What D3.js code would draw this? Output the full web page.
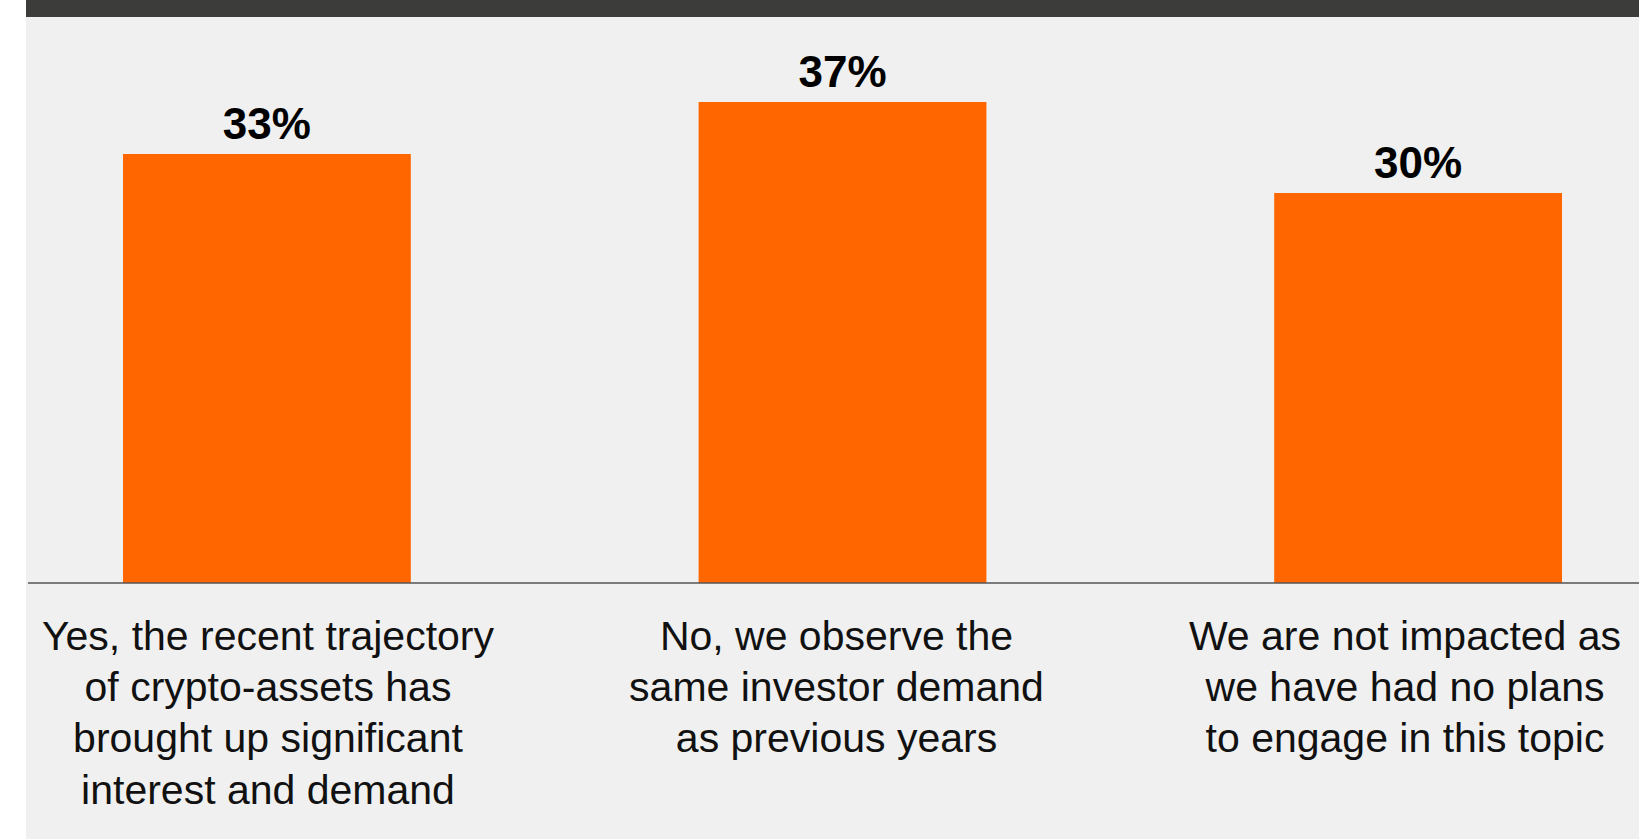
<!DOCTYPE html>
<html>
<head>
<meta charset="utf-8">
<script src="https://cdn.jsdelivr.net/npm/d3@7"></script>
<style>
  html, body { margin: 0; padding: 0; background: #ffffff; }
  svg { display: block; }
</style>
</head>
<body>
<svg id="chart" width="1639" height="839"></svg>
<script>
// Survey responses
const categories = [
  "Yes, the recent trajectory of crypto-assets has brought up significant interest and demand",
  "No, we observe the same investor demand as previous years",
  "We are not impacted as we have had no plans to engage in this topic"
];
const categoryLines = [
  ["Yes, the recent trajectory", "of crypto-assets has", "brought up significant", "interest and demand"],
  ["No, we observe the", "same investor demand", "as previous years"],
  ["We are not impacted as", "we have had no plans", "to engage in this topic"]
];
const values = [33, 37, 30];
const valueLabels = ["33%", "37%", "30%"];

const W = 1639, H = 839;
const svg = d3.select("#chart");

// panel background and header strip
svg.append("rect").attr("x", 26).attr("y", 0).attr("width", W - 26).attr("height", H).attr("fill", "#f0f0f0");
svg.append("rect").attr("x", 26).attr("y", 0).attr("width", W - 26).attr("height", 17).attr("fill", "#3c3c3a");

const baseY = 583;
const x = d3.scaleBand().domain(categories).range([123, 1562]).paddingInner(0.5).paddingOuter(0);
const y = d3.scaleLinear().domain([0, 40]).range([baseY, baseY - 520]);
const xLabel = d3.scalePoint().domain(categories).range([268, 1405]);

const data = categories.map((c, i) => ({ c, v: values[i], label: valueLabels[i], lines: categoryLines[i] }));

svg.append("g").selectAll("rect").data(data).join("rect")
  .attr("x", d => x(d.c))
  .attr("y", d => y(d.v))
  .attr("width", x.bandwidth())
  .attr("height", d => y(0) - y(d.v))
  .attr("fill", "#ff6600");

// baseline
svg.append("line")
  .attr("x1", 28).attr("x2", W)
  .attr("y1", y(0)).attr("y2", y(0))
  .attr("stroke", "#555").attr("stroke-width", 1.5);

// value labels
svg.append("g").selectAll("text").data(data).join("text")
  .attr("x", d => x(d.c) + x.bandwidth() / 2)
  .attr("y", d => y(d.v) - 15)
  .attr("text-anchor", "middle")
  .attr("font-family", "'Liberation Sans', Arial, Helvetica, sans-serif")
  .attr("font-weight", "bold")
  .attr("font-size", 44)
  .attr("fill", "#000")
  .text(d => d.label);

// category labels
const cat = svg.append("g").selectAll("text").data(data).join("text")
  .attr("x", d => xLabel(d.c))
  .attr("y", 650)
  .attr("text-anchor", "middle")
  .attr("font-family", "'Liberation Sans', Arial, Helvetica, sans-serif")
  .attr("font-size", 41)
  .attr("fill", "#111");
cat.selectAll("tspan").data(d => d.lines.map(l => ({ l, cx: xLabel(d.c) }))).join("tspan")
  .attr("x", t => t.cx)
  .attr("dy", (t, i) => i === 0 ? 0 : 51.2)
  .text(t => t.l);
</script>
</body>
</html>
